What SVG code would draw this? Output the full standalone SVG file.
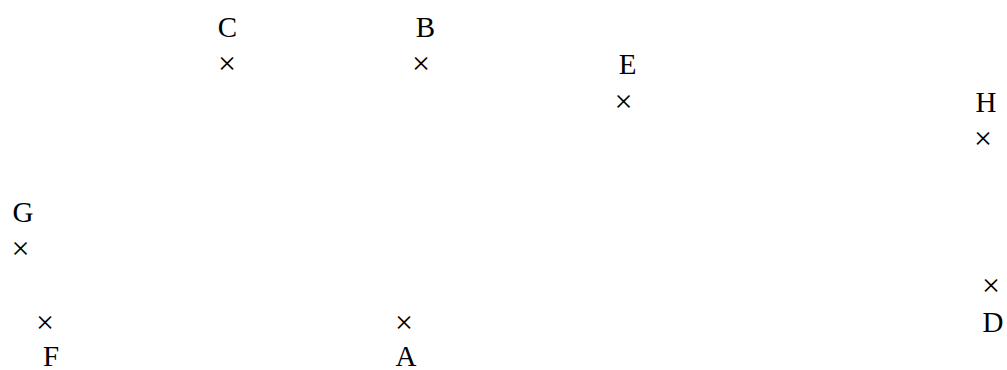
<svg xmlns="http://www.w3.org/2000/svg" width="1007" height="370" viewBox="0 0 1007 370">
<style>
.lbl{font-family:"Liberation Serif","Times New Roman",serif;font-size:29px;fill:#000;text-anchor:middle}
.mk{font-family:"Liberation Serif","Times New Roman",serif;font-size:32px;fill:#000;text-anchor:middle}
</style>
<rect width="1007" height="370" fill="#fff"/>
<g id="C"><text class="lbl" x="227.5" y="37">C</text><text class="mk" x="227" y="74">×</text></g>
<g id="B"><text class="lbl" x="425.5" y="37">B</text><text class="mk" x="421" y="74">×</text></g>
<g id="E"><text class="lbl" x="627.5" y="74">E</text><text class="mk" x="623.5" y="112">×</text></g>
<g id="H"><text class="lbl" x="986" y="112">H</text><text class="mk" x="983" y="149">×</text></g>
<g id="G"><text class="lbl" x="23" y="222">G</text><text class="mk" x="20.5" y="259">×</text></g>
<g id="F"><text class="lbl" x="51" y="366">F</text><text class="mk" x="45" y="333">×</text></g>
<g id="A"><text class="lbl" x="406" y="366">A</text><text class="mk" x="404" y="333">×</text></g>
<g id="D"><text class="lbl" x="993" y="332">D</text><text class="mk" x="991" y="296">×</text></g>
<g id="connectors"></g>
</svg>
